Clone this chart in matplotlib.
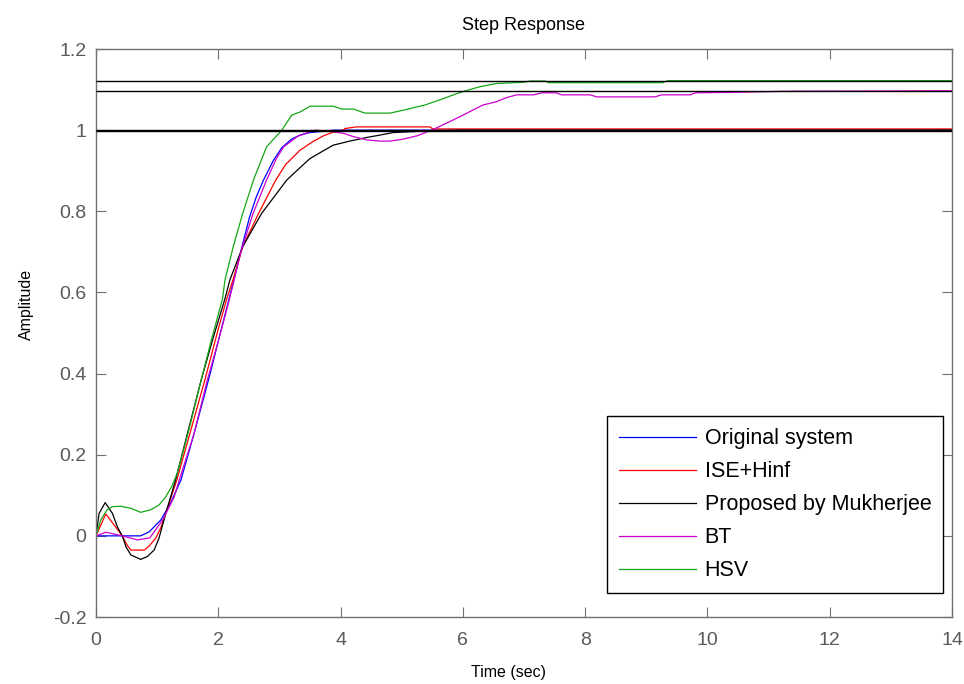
import matplotlib
matplotlib.use("Agg")
import matplotlib.pyplot as plt
import numpy as np

plt.rcParams['font.family'] = ['Liberation Sans', 'DejaVu Sans']

# ---------------- data ----------------
t_orig = [0, 0.5, 0.73, 0.87, 1.06, 1.22, 1.39, 1.6, 1.85, 2.0, 2.16, 2.27, 2.4, 2.51,
          2.62, 2.74, 2.9, 3.04, 3.2, 3.34, 3.5, 3.7, 3.9, 6.0, 14.0]
v_orig = [0, 0, 0.0, 0.01, 0.039, 0.081, 0.138, 0.25, 0.39, 0.48, 0.575, 0.64, 0.72, 0.785,
          0.835, 0.877, 0.925, 0.957, 0.978, 0.988, 0.994, 0.997, 1.0, 1.0, 1.0]

t_ise = [0, 0.16, 0.43, 0.51, 0.57, 0.79, 0.87, 0.98, 1.06, 1.14, 1.32, 1.55, 1.78, 2.0,
         2.14, 2.24, 2.4, 2.66, 2.94, 3.1, 3.34, 3.56, 3.72, 3.88, 4.05, 4.07, 4.26, 5.46,
         5.51, 14.0]
v_ise = [0, 0.054, 0.0, -0.023, -0.035, -0.035, -0.025, -0.005, 0.02, 0.055, 0.137, 0.26,
         0.384, 0.51, 0.585, 0.631, 0.713, 0.795, 0.877, 0.915, 0.951, 0.973, 0.986, 0.995,
         1.0, 1.004, 1.008, 1.008, 1.003, 1.003]

t_muk = [0, 0.05, 0.15, 0.27, 0.35, 0.43, 0.49, 0.57, 0.73, 0.84, 0.95, 1.03, 1.14, 1.3,
         1.5, 1.72, 1.92, 2.11, 2.19, 2.4, 2.71, 3.12, 3.34, 3.5, 3.74, 3.88, 4.15, 4.43,
         4.65, 4.86, 5.13, 5.4, 6.0, 14.0]
v_muk = [0, 0.055, 0.082, 0.055, 0.022, 0.0, -0.027, -0.047, -0.058, -0.051, -0.035,
         -0.006, 0.055, 0.137, 0.255, 0.384, 0.49, 0.585, 0.631, 0.713, 0.795, 0.877,
         0.908, 0.93, 0.951, 0.963, 0.973, 0.982, 0.988, 0.994, 0.996, 0.998, 1.0, 1.0]

t_bt = [0, 0.16, 0.43, 0.68, 0.88, 1.09, 1.28, 1.36, 1.6, 1.82, 2.0, 2.16, 2.26, 2.37,
        2.57, 2.79, 2.95, 3.07, 3.3, 3.58, 3.88, 4.05, 4.21, 4.43, 4.65, 4.81, 5.03, 5.25,
        5.49, 5.73, 5.95, 6.17, 6.33, 6.55, 6.71, 6.88, 7.16, 7.29, 7.53, 7.61, 8.08, 8.19,
        9.14, 9.25, 9.72, 9.8, 10.32, 11.4, 14.0]
v_bt = [0, 0.009, 0.0, -0.01, -0.005, 0.039, 0.096, 0.137, 0.25, 0.384, 0.48, 0.57, 0.631,
        0.70, 0.795, 0.877, 0.93, 0.959, 0.985, 1.0, 0.996, 0.992, 0.984, 0.976, 0.973,
        0.973, 0.978, 0.986, 1.0, 1.017, 1.033, 1.05, 1.062, 1.07, 1.08, 1.087, 1.087,
        1.092, 1.092, 1.087, 1.087, 1.082, 1.082, 1.087, 1.087, 1.092, 1.093, 1.096, 1.097]

t_hsv = [0, 0.077, 0.18, 0.27, 0.4, 0.57, 0.73, 0.89, 1.03, 1.14, 1.25, 1.33, 1.5, 1.72,
         1.9, 2.07, 2.11, 2.245, 2.4, 2.575, 2.79, 3.04, 3.2, 3.34, 3.5, 3.88, 4.02, 4.21,
         4.4, 4.81, 5.05, 5.38, 5.63, 5.9, 6.09, 6.28, 6.55, 6.99, 7.1, 7.35, 7.4, 9.27,
         9.35, 14.0]
v_hsv = [0, 0.039, 0.064, 0.072, 0.073, 0.068, 0.058, 0.064, 0.076, 0.096, 0.125, 0.155,
         0.25, 0.384, 0.49, 0.585, 0.631, 0.713, 0.795, 0.877, 0.959, 1.0, 1.037, 1.045,
         1.059, 1.059, 1.052, 1.052, 1.042, 1.042, 1.05, 1.062, 1.075, 1.09, 1.099, 1.107,
         1.115, 1.118, 1.121, 1.121, 1.117, 1.117, 1.122, 1.122]

steady_levels = [1.121, 1.096, 1.0, 0.998]

labels = ['Original system', 'ISE+Hinf', 'Proposed by Mukherjee', 'BT', 'HSV']
colors = ['#0000ff', '#ff0000', '#000000', '#cc00cc', '#16a616']
x_ticks = [0, 2, 4, 6, 8, 10, 12, 14]
y_ticks = [-0.2, 0, 0.2, 0.4, 0.6, 0.8, 1.0, 1.2]
y_ticklabels = ['-0.2', '0', '0.2', '0.4', '0.6', '0.8', '1', '1.2']

# ---------------- figure ----------------
fig = plt.figure(figsize=(9.64, 6.84), dpi=100)
ax = fig.add_axes([96/964, 67/684, 856/964, 568/684])

series = [(t_orig, v_orig), (t_ise, v_ise), (t_muk, v_muk), (t_bt, v_bt), (t_hsv, v_hsv)]
for (t, v), lab, c in zip(series, labels, colors):
    ax.plot(t, v, color=c, lw=0.9, label=lab, zorder=2)

ax.hlines(steady_levels, 0, 14, colors='black', lw=1.0, zorder=3)

ax.set_xlim(0, 14)
ax.set_ylim(-0.2, 1.2)
ax.set_xticks(x_ticks)
ax.set_xticklabels([str(x) for x in x_ticks])
ax.set_yticks(y_ticks)
ax.set_yticklabels(y_ticklabels)

grey = '#707070'
for s in ax.spines.values():
    s.set_color(grey)
    s.set_linewidth(1.0)
ax.tick_params(direction='in', length=7, width=0.8, color=grey, labelcolor='#5a5a5a',
               labelsize=14, top=True, right=True)
ax.tick_params(axis='x', pad=11)
ax.tick_params(axis='y', pad=7)

ax.set_title('Step Response', fontsize=13, pad=14)
ax.set_xlabel('Time (sec)', fontsize=11.5)
ax.set_ylabel('Amplitude', fontsize=11.5)
ax.xaxis.set_label_coords(0.482, -0.085)
ax.yaxis.set_label_coords(-0.073, 0.55)

leg = ax.legend(loc='lower right', bbox_to_anchor=(943.3/964, 1 - 593.3/684),
                bbox_transform=fig.transFigure, borderaxespad=0, fontsize=15.5,
                handlelength=3.6, handletextpad=0.4, labelspacing=0.56,
                borderpad=0.55, fancybox=False, framealpha=1)
leg.get_frame().set_edgecolor('black')
leg.get_frame().set_linewidth(1.0)

fig.savefig('out.png', dpi=100)
